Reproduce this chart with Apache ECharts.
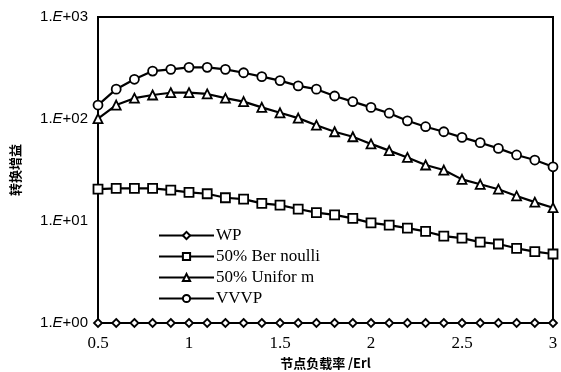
<!DOCTYPE html>
<html><head><meta charset="utf-8">
<script src="https://cdn.jsdelivr.net/npm/echarts@6/dist/echarts.min.js"></script>
<style>html,body{margin:0;padding:0;background:#fff}#c{width:561px;height:372px}</style>
</head><body><div id="c"></div>
<script>
var xValues = [0.5,0.6,0.7,0.8,0.9,1.0,1.1,1.2,1.3,1.4,1.5,1.6,1.7,1.8,1.9,2.0,2.1,2.2,2.3,2.4,2.5,2.6,2.7,2.8,2.9,3.0];
var wp = [1,1,1,1,1,1,1,1,1,1,1,1,1,1,1,1,1,1,1,1,1,1,1,1,1,1];
var bernoulli = [20.5,20.9,20.9,20.9,20.1,19.1,18.5,16.9,16.4,14.9,14.3,13.1,12.1,11.5,10.6,9.6,9.1,8.5,7.9,7.1,6.8,6.2,5.95,5.4,5.0,4.75];
var uniform = [101,137,160,172,181,181,176,160,148,130,115,102,87,75,67,57,49,42,35.4,31.6,25.6,22.9,20.5,17.6,15.3,13.5];
var vvvp = [137,196,245,295,307,321,321,307,284,260,238,211,196,168,148,130,114,96,84,75,66,58.6,51.5,44.4,39.6,34];
var seriesNames = ['WP','50% Ber noulli','50% Unifor m','VVVP'];
var xTicks = [0.5,1,1.5,2,2.5,3];

function pairs(arr){ return arr.map(function(v,i){ return [xValues[i], v]; }); }
function mk(name, data, symbol, size){
  return {
    name: name, type: 'line', data: pairs(data), symbol: symbol, symbolSize: size,
    showAllSymbol: true, clip: false,
    lineStyle: {color: '#000', width: 2.2},
    itemStyle: {color: '#fff', borderColor: '#000', borderWidth: 1.8}
  };
}
var chart = echarts.init(document.getElementById('c'), null, {renderer: 'canvas'});
chart.setOption({
  animation: false,
  backgroundColor: '#fff',
  grid: {left: 98, right: 8, top: 17, bottom: 49, show: true, borderColor: '#000', borderWidth: 2,
    containLabel: false, outerBoundsMode: 'none'},
  legend: {
    orient: 'vertical', left: 158, top: 227, padding: 0, itemWidth: 55, itemHeight: 9, itemGap: 4,
    data: seriesNames,
    textStyle: {fontFamily: 'Liberation Serif', fontSize: 17, color: '#000', padding: [0,0,0,-3]}
  },
  xAxis: {
    type: 'value', min: 0.5, max: 3, interval: 0.5,
    axisLine: {show: true, onZero: false, lineStyle: {color: '#000', width: 2}},
    axisTick: {show: false}, splitLine: {show: false},
    axisLabel: {color: '#000', fontFamily: 'Liberation Serif', fontSize: 17, margin: 12,
      formatter: function(v){ return xTicks.indexOf(v) >= 0 ? String(v) : ''; }},
    name: '节点负载率 /Erl', nameLocation: 'middle', nameGap: 33,
    nameTextStyle: {color: '#000', fontFamily: 'Noto Sans CJK SC', fontSize: 13, fontWeight: 'bold'}
  },
  yAxis: {
    type: 'log', logBase: 10, min: 1, max: 1000,
    axisLine: {show: true, lineStyle: {color: '#000', width: 2}},
    axisTick: {show: false}, splitLine: {show: false}, minorTick: {show: false},
    axisLabel: {color: '#000', fontFamily: 'Liberation Sans', fontSize: 15, margin: 10,
      formatter: function(v){ var e = Math.round(Math.log10(v)); return '1.{i|E}+0' + e; },
      rich: {i: {fontStyle: 'italic', fontFamily: 'Liberation Sans', fontSize: 15, color: '#000'}}},
    name: '转换增益', nameLocation: 'middle', nameGap: 76, nameRotate: 90,
    nameTextStyle: {color: '#000', fontFamily: 'Noto Sans CJK SC', fontSize: 13, fontWeight: 'bold'}
  },
  series: [
    mk(seriesNames[0], wp, 'diamond', 8),
    mk(seriesNames[1], bernoulli, 'rect', 9),
    mk(seriesNames[2], uniform, 'triangle', 9),
    mk(seriesNames[3], vvvp, 'circle', 9)
  ]
});
</script></body></html>
